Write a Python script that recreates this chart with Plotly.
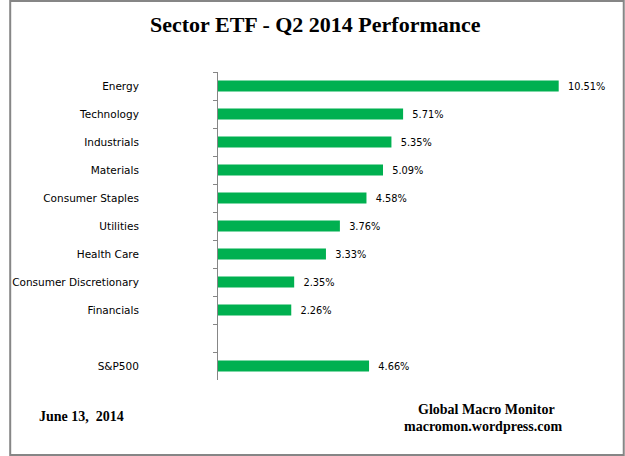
import plotly.graph_objects as go

categories = ["Energy", "Technology", "Industrials", "Materials", "Consumer Staples",
              "Utilities", "Health Care", "Consumer Discretionary", "Financials", " ", "S&P500"]
values = [10.51, 5.71, 5.35, 5.09, 4.58, 3.76, 3.33, 2.35, 2.26, None, 4.66]
labels = ["10.51%", "5.71%", "5.35%", "5.09%", "4.58%", "3.76%", "3.33%", "2.35%", "2.26%", "", "4.66%"]

W, H = 625, 456
L, R, T, B = 212, 607, 72, 380

def px(x):
    return (x - L) / (R - L)

def py(y):
    return (B - y) / (B - T)

fig = go.Figure(go.Bar(
    x=values, y=categories, orientation="h",
    marker=dict(color="#00B050", line=dict(width=0)),
    width=0.4,
    text=["\u00a0\u00a0" + t if t else "" for t in labels],
    textposition="outside", cliponaxis=False,
    textfont=dict(family="DejaVu Sans", size=10.5, color="#000000"),
    hoverinfo="skip",
))

fig.update_layout(
    width=W, height=H,
    margin=dict(l=L, r=W - R, t=T, b=H - B, pad=0),
    paper_bgcolor="white", plot_bgcolor="white",
    showlegend=False,
    bargap=0.6,
    xaxis=dict(range=[0, 12], visible=False, showgrid=False, zeroline=False),
    yaxis=dict(
        type="category", categoryorder="array", categoryarray=categories,
        autorange="reversed",
        showline=True, linecolor="#868686", linewidth=1,
        ticks="outside", ticklen=4, tickcolor="#868686", tickwidth=1,
        tickson="boundaries", showgrid=False, zeroline=False,
        ticklabelstandoff=76,
        tickfont=dict(family="DejaVu Sans", size=10.5, color="#000000"),
    ),
    annotations=[
        dict(text="<b>Sector ETF - Q2 2014 Performance</b>", x=px(311), y=py(25),
             xref="paper", yref="paper", xanchor="center", yanchor="middle",
             showarrow=False, font=dict(family="Liberation Serif", size=22, color="black")),
        dict(text="<b>June 13,  2014</b>", x=px(28), y=py(416),
             xref="paper", yref="paper", xanchor="left", yanchor="middle",
             showarrow=False, font=dict(family="Liberation Serif", size=14, color="black")),
        dict(text="<b>Global Macro Monitor</b>", x=px(485), y=py(409),
             xref="paper", yref="paper", xanchor="center", yanchor="middle",
             showarrow=False, font=dict(family="Liberation Serif", size=14, color="black")),
        dict(text="<b>macromon.wordpress.com</b>", x=px(481), y=py(426),
             xref="paper", yref="paper", xanchor="center", yanchor="middle",
             showarrow=False, font=dict(family="Liberation Serif", size=14, color="black")),
    ],
    shapes=[
        dict(type="rect", xref="paper", yref="paper",
             x0=px(1), x1=px(624), y0=py(1), y1=py(455),
             line=dict(color="#868686", width=2), fillcolor="rgba(0,0,0,0)", layer="above"),
    ],
)

fig.write_html("out.html", config={"displayModeBar": False},
               post_script="document.body.style.margin='0px';document.body.style.overflow='hidden';")
